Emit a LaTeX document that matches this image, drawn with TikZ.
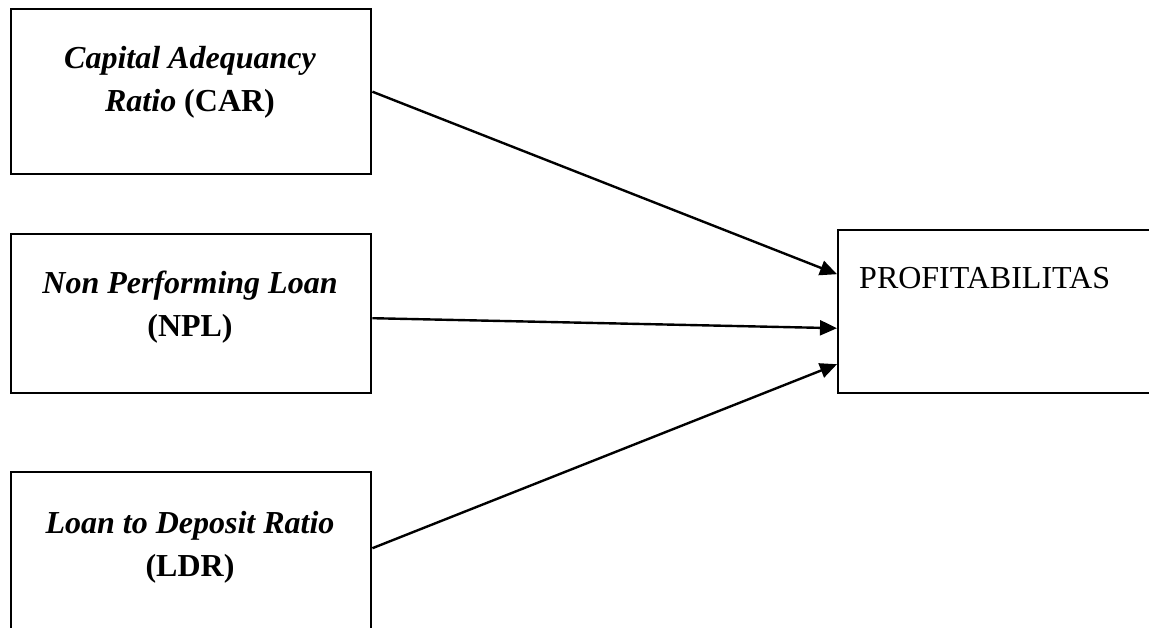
\documentclass[tikz,border=0pt]{standalone}
\usepackage{fontspec}
\setmainfont{Liberation Serif}
\usetikzlibrary{arrows.meta}
\begin{document}
\begin{tikzpicture}[x=1pt,y=-1pt,
  box/.style={draw,line width=2.4pt,inner sep=0pt,anchor=north west,minimum width=360pt},
  lbl/.style={font=\fontsize{32}{43}\selectfont,align=center,anchor=base,inner sep=0pt},
  arr/.style={line width=2.4pt,-{Triangle[length=17pt,width=15pt]}}]
\useasboundingbox (0,0) rectangle (1149,627);
\clip (0,0) rectangle (1149,627);
\node[box,minimum height=165pt] (b1) at (10,8) {};
\node[box,minimum height=159pt] (b2) at (10,233) {};
\node[box,minimum height=165pt] (b3) at (10,471) {};
\node[box,minimum width=330pt,minimum height=163pt] (b4) at (837,229) {};
\node[lbl] (t1) at (190,111) {\textbf{\textit{Capital Adequancy}}\\\textbf{\textit{Ratio} (CAR)}};
\node[lbl] (t2) at (190,336) {\textbf{\textit{Non Performing Loan}}\\\textbf{(NPL)}};
\node[lbl] (t3) at (190,576) {\textbf{\textit{Loan to Deposit Ratio}}\\\textbf{(LDR)}};
\node[font=\fontsize{32}{43}\selectfont,anchor=base west,inner sep=0pt] (t4) at (859,288) {PROFITABILITAS};
\draw[arr] (b1.east) -- ([yshift=37.5pt]b4.west);
\draw[arr] ([yshift=-4.5pt]b2.east) -- ([yshift=-16.5pt]b4.west);
\draw[arr] ([yshift=6.5pt]b3.east) -- ([yshift=-52.5pt]b4.west);
\end{tikzpicture}
\end{document}
